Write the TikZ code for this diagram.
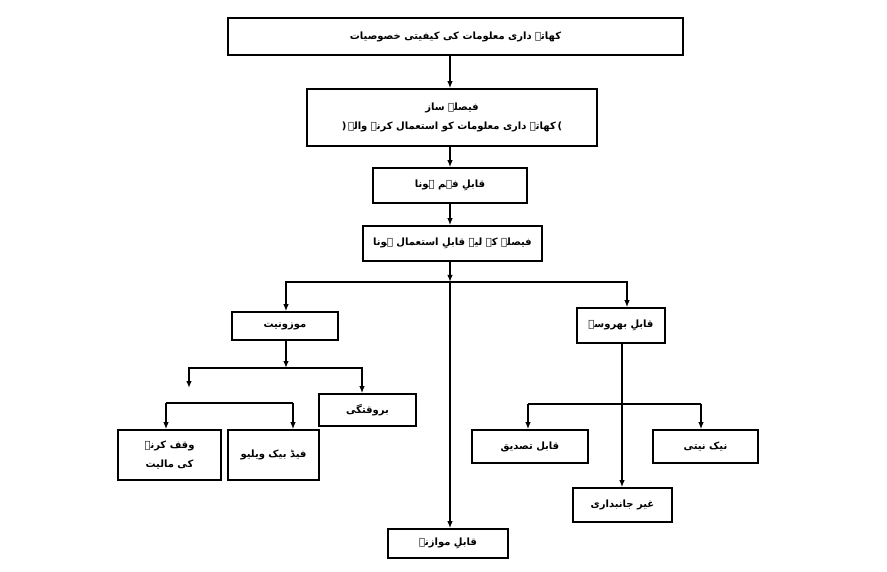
\documentclass[tikz,border=0pt]{standalone}
\usepackage{fontspec}
\usetikzlibrary{arrows.meta}
\TeXXeTstate=1
\newfontfamily\arabicfont[Script=Arabic]{DejaVu Sans Bold}
\newcommand{\urd}[1]{\arabicfont\beginR #1\endR}
\tikzset{
  box/.style={draw, line width=1.6pt, inner sep=0pt, align=center,
    font=\arabicfont\fontsize{10}{19}\selectfont},
  arr/.style={-{Latex[length=7pt,width=5.5pt]}, line width=1.4pt},
  ln/.style={line width=1.4pt}
}
\begin{document}
\begin{tikzpicture}[x=1pt,y=-1pt]
\useasboundingbox (0,0) rectangle (887,572);
% boxes
\node[box, minimum width=455pt, minimum height=37pt] (b1) at (455.5,36.5) {\urd{کھاتہ داری معلومات کی کیفیتی خصوصیات}};
\node[box, minimum width=290pt, minimum height=57pt] (b2) at (452,117.5) {\urd{فیصلہ ساز}\\\arabicfont(\,\beginR کھاتہ داری معلومات کو استعمال کرنے والے\endR\,)};
\node[box, minimum width=154pt, minimum height=35pt] (b3) at (450,185.5) {\urd{قابلِ فہم ہونا}};
\node[box, minimum width=179pt, minimum height=35pt] (b4) at (452.5,243.5) {\urd{فیصلے کے لیے قابلِ استعمال ہونا}};
\node[box, minimum width=106pt, minimum height=28pt] (b5) at (285,326) {\urd{موزونیت}};
\node[box, minimum width=88pt, minimum height=35pt] (b6) at (621,325.5) {\urd{قابلِ بھروسہ}};
\node[box, minimum width=97pt, minimum height=32pt] (b7) at (367.5,410) {\urd{بروقتگی}};
\node[box, minimum width=103pt, minimum height=50pt] (b8) at (169.5,455) {\urd{وقف کرنے}\\\urd{کی مالیت}};
\node[box, minimum width=91pt, minimum height=50pt] (b9) at (273.5,455) {\urd{فیڈ بیک ویلیو}};
\node[box, minimum width=120pt, minimum height=29pt] (b10) at (448,543.5) {\urd{قابلِ موازنہ}};
\node[box, minimum width=116pt, minimum height=33pt] (b11) at (530,446.5) {\urd{قابل تصدیق}};
\node[box, minimum width=105pt, minimum height=33pt] (b12) at (705.5,446.5) {\urd{نیک نیتی}};
\node[box, minimum width=99pt, minimum height=34pt] (b13) at (622.5,505) {\urd{غیر جانبداری}};
% helper coordinates
\coordinate (sx) at (450,0);
\coordinate (j1) at (450,282);
\coordinate (l1) at (286,282);
\coordinate (r1) at (627,282);
\coordinate (j2) at (286,368);
\coordinate (r2) at (362,368);
\coordinate (e1) at (189,388);
\coordinate (l3) at (166,403);
\coordinate (r3) at (293,403);
\coordinate (v6) at (622,0);
\coordinate (l4) at (528,404);
\coordinate (r4) at (701,404);
% spine
\draw[arr] (b1.south -| sx) -- (b2.north -| sx);
\draw[arr] (b2.south -| sx) -- (b3.north -| sx);
\draw[arr] (b3.south -| sx) -- (b4.north -| sx);
\draw[arr] (b4.south -| sx) -- (j1);
\draw[arr] (j1) -- (b10.north -| j1);
\draw[arr] (j1) -| (b5.north -| l1);
\draw[arr] (j1) -| (b6.north -| r1);
% left branch
\draw[arr] (b5.south -| j2) -- (j2);
\draw[arr] (j2) -| (b7.north -| r2);
\draw[arr] (j2) -| (e1);
\draw[ln] (l3) -- (r3);
\draw[arr] (l3) -- (b8.north -| l3);
\draw[arr] (r3) -- (b9.north -| r3);
% right branch
\draw[arr] (b6.south -| v6) -- (b13.north -| v6);
\draw[ln] (l4) -- (r4);
\draw[arr] (l4) -- (b11.north -| l4);
\draw[arr] (r4) -- (b12.north -| r4);
\end{tikzpicture}
\end{document}
